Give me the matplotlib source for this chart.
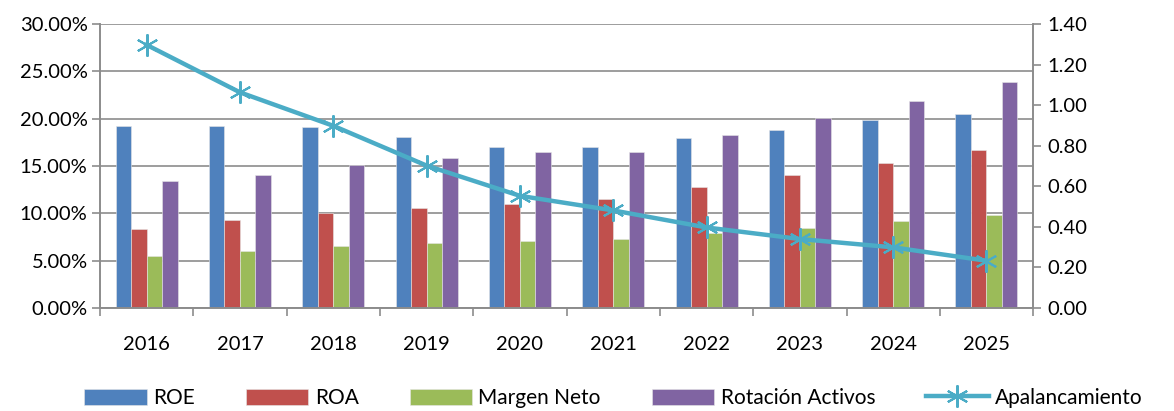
import matplotlib
matplotlib.use("Agg")
import matplotlib.pyplot as plt
import numpy as np
from matplotlib.ticker import FuncFormatter, MultipleLocator

years = ["2016", "2017", "2018", "2019", "2020", "2021", "2022", "2023", "2024", "2025"]
roe = [19.27, 19.24, 19.10, 18.08, 17.02, 17.06, 17.94, 18.85, 19.87, 20.51]
roa = [8.37, 9.32, 10.02, 10.55, 10.94, 11.50, 12.77, 14.03, 15.27, 16.64]
margen = [5.45, 6.01, 6.54, 6.86, 7.10, 7.25, 7.88, 8.48, 9.18, 9.81]
rotacion = [13.37, 14.03, 15.09, 15.86, 16.46, 16.46, 18.26, 20.08, 21.88, 23.85]
apalancamiento = [1.297, 1.063, 0.898, 0.702, 0.553, 0.481, 0.397, 0.340, 0.299, 0.233]

plt.rcParams['font.family'] = ['Lato', 'DejaVu Sans']

fig = plt.figure(figsize=(11.74, 4.11), dpi=100)
ax = fig.add_axes([0.0852, 0.2506, 0.7948, 0.691])
ax2 = ax.twinx()

x = np.arange(len(years))
w = 0.166
grid_c = "#8c8c8c"
series = [(roe, "#4F81BD", "ROE"), (roa, "#C0504D", "ROA"),
          (margen, "#9BBB59", "Margen Neto"), (rotacion, "#8064A2", "Rotación Activos")]
handles = []
for i, (vals, col, lab) in enumerate(series):
    b = ax.bar(x + (i - 1.5) * w, vals, width=w, color=col, edgecolor="#e6e6e6",
               linewidth=0.4, label=lab, zorder=2)
    handles.append(b)

ln, = ax2.plot(x, apalancamiento, color="#4BACC6", linewidth=3.2, marker=(6, 2, 0),
               markersize=16, markeredgewidth=1.5, markeredgecolor="#4BACC6",
               label="Apalancamiento", zorder=3)
handles.append(ln)

ax.set_xlim(-0.5, len(years) - 0.5)
ax.set_ylim(0, 30)
ax.yaxis.set_major_locator(MultipleLocator(5))
ax.yaxis.set_major_formatter(FuncFormatter(lambda v, p: f"{v:.2f}%"))
ax.grid(axis='y', color=grid_c, linewidth=1.2, zorder=0)
ax.set_axisbelow(True)
ax2.set_ylim(0, 1.4)
ax2.yaxis.set_major_locator(MultipleLocator(0.2))
ax2.yaxis.set_major_formatter(FuncFormatter(lambda v, p: f"{v:.2f}"))

fs = 14.5
ax.set_xticks(x)
ax.set_xticklabels(years)
ax.set_xticks(np.arange(-0.5, len(years), 1.0), minor=True)
ax.tick_params(axis='x', which='major', length=0, labelsize=fs, pad=20)
ax.tick_params(axis='x', which='minor', length=6, color=grid_c, width=1.2)
ax.tick_params(axis='y', length=6, color=grid_c, width=1.2, labelsize=fs, pad=3)
ax2.tick_params(axis='y', length=6, color=grid_c, width=1.2, labelsize=fs, pad=4)

for a in (ax, ax2):
    a.spines["top"].set_visible(False)
    for s in ["left", "right", "bottom"]:
        a.spines[s].set_color(grid_c)
        a.spines[s].set_linewidth(1.2)

fig.legend(handles=handles, labels=[h.get_label() for h in handles], loc="center",
           bbox_to_anchor=(0.5226, 0.032), ncol=5, frameon=False, fontsize=15,
           handlelength=3.0, handleheight=0.8, columnspacing=2.45, handletextpad=0.3)

fig.savefig("out.png", dpi=100)
